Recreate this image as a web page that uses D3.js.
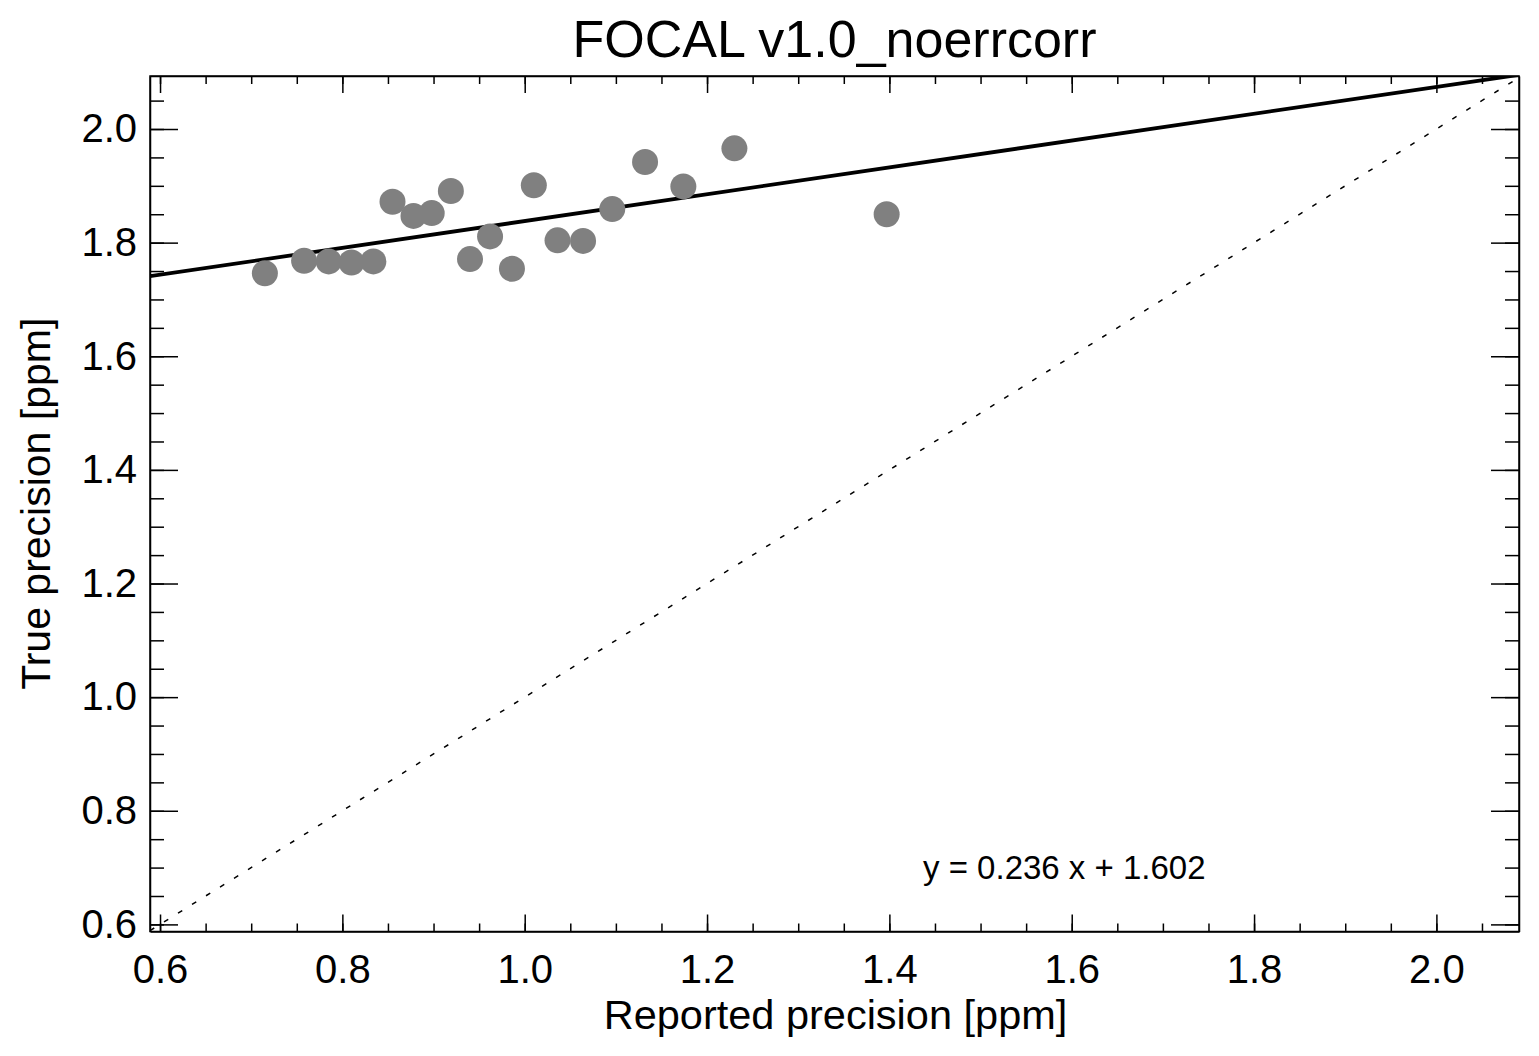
<!DOCTYPE html>
<html lang="en">
<head>
    <meta charset="UTF-8">
    <title>FOCAL v1.0_noerrcorr</title>
    <script src="https://d3js.org/d3.v7.min.js"></script>
    <style>
        body {
            margin: 0;
            background: #fff;
        }
        text {
            font-family: "Liberation Sans", Arial, Helvetica, sans-serif;
            fill: #000;
        }
        .axis path, .axis line {
            stroke: #000;
            stroke-width: 1.5;
        }
        .axis text {
            font-size: 40px;
        }
        .frame {
            fill: none;
            stroke: #000;
            stroke-width: 1.5;
        }
        .fit {
            fill: none;
            stroke: #000;
            stroke-width: 3.8;
        }
        .identity {
            fill: none;
            stroke: #000;
            stroke-width: 1.5;
            stroke-dasharray: 5, 11.5;
        }
        .dot {
            fill: #808080;
        }
    </style>
</head>
<body>
<div id="chart"></div>
<script>
    const width = 1539;
    const height = 1056;

    // values
    const reportedPrecision = [0.715, 0.758, 0.785, 0.810, 0.834, 0.855, 0.878, 0.898, 0.919, 0.940,
                               0.962, 0.986, 1.010, 1.036, 1.064, 1.096, 1.132, 1.174, 1.230, 1.397];
    const truePrecision = [1.746, 1.768, 1.767, 1.765, 1.767, 1.872, 1.847, 1.852, 1.891, 1.771,
                           1.811, 1.754, 1.901, 1.804, 1.803, 1.859, 1.942, 1.899, 1.966, 1.850];
    const fitSlope = 0.236;
    const fitIntercept = 1.602;
    const xTicks = [0.6, 0.8, 1.0, 1.2, 1.4, 1.6, 1.8, 2.0];
    const yTicks = [0.6, 0.8, 1.0, 1.2, 1.4, 1.6, 1.8, 2.0];
    const xDomain = [0.589, 2.0906];
    const yDomain = [0.5875, 2.0933];

    const box = {left: 150, right: 1519, top: 76, bottom: 931.5};

    const x = d3.scaleLinear().domain(xDomain).range([box.left, box.right]);
    const y = d3.scaleLinear().domain(yDomain).range([box.bottom, box.top]);

    const minorTicks = d3.range(0.6, 2.0501, 0.05).map(d => +d.toFixed(2));

    const svg = d3.select("#chart").append("svg")
        .attr("width", width)
        .attr("height", height);

    svg.append("defs").append("clipPath").attr("id", "plotClip")
        .append("rect")
        .attr("x", box.left).attr("y", box.top)
        .attr("width", box.right - box.left)
        .attr("height", box.bottom - box.top);

    drawAxes(svg);
    drawLines(svg.append("g").attr("clip-path", "url(#plotClip)"));
    drawDots(svg.append("g"));
    drawText(svg);

    svg.append("rect")
        .attr("class", "frame")
        .attr("x", box.left).attr("y", box.top)
        .attr("width", box.right - box.left)
        .attr("height", box.bottom - box.top);

    function drawAxes(svg) {
        const fmt = d3.format(".1f");

        // labelled axes, ticks pointing in
        svg.append("g").attr("class", "axis")
            .attr("transform", `translate(0,${box.bottom})`)
            .call(d3.axisBottom(x).tickValues(xTicks).tickFormat(fmt)
                .tickSizeInner(-17).tickSizeOuter(0).tickPadding(23));
        svg.append("g").attr("class", "axis")
            .attr("transform", `translate(${box.left},0)`)
            .call(d3.axisLeft(y).tickValues(yTicks).tickFormat(fmt)
                .tickSizeInner(-28).tickSizeOuter(0).tickPadding(13));

        // mirrored axes without labels
        svg.append("g").attr("class", "axis")
            .attr("transform", `translate(0,${box.top})`)
            .call(d3.axisTop(x).tickValues(xTicks).tickFormat("")
                .tickSizeInner(-17).tickSizeOuter(0));
        svg.append("g").attr("class", "axis")
            .attr("transform", `translate(${box.right},0)`)
            .call(d3.axisRight(y).tickValues(yTicks).tickFormat("")
                .tickSizeInner(-28).tickSizeOuter(0));

        // minor ticks
        const minor = [
            [d3.axisBottom(x), `translate(0,${box.bottom})`, -8],
            [d3.axisTop(x), `translate(0,${box.top})`, -8],
            [d3.axisLeft(y), `translate(${box.left},0)`, -14],
            [d3.axisRight(y), `translate(${box.right},0)`, -14]
        ];
        minor.forEach(function(m) {
            svg.append("g").attr("class", "axis")
                .attr("transform", m[1])
                .call(m[0].tickValues(minorTicks).tickFormat("").tickSizeInner(m[2]).tickSizeOuter(0))
                .select(".domain").remove();
        });
    }

    function drawLines(g) {
        const line = d3.line().x(d => x(d[0])).y(d => y(d[1]));

        // one-to-one line
        g.append("path")
            .attr("class", "identity")
            .attr("d", line([[xDomain[0], xDomain[0]], [xDomain[1], xDomain[1]]]));

        // linear fit
        g.append("path")
            .attr("class", "fit")
            .attr("d", line(xDomain.map(v => [v, fitSlope * v + fitIntercept])));
    }

    function drawDots(g) {
        g.selectAll("circle")
            .data(d3.zip(reportedPrecision, truePrecision))
            .enter()
            .append("circle")
            .attr("class", "dot")
            .attr("cx", d => x(d[0]))
            .attr("cy", d => y(d[1]))
            .attr("r", 13);
    }

    function drawText(svg) {
        svg.append("text")
            .attr("x", (box.left + box.right) / 2)
            .attr("y", 57)
            .attr("text-anchor", "middle")
            .style("font-size", "52px")
            .text("FOCAL v1.0_noerrcorr");

        svg.append("text")
            .attr("x", (box.left + box.right) / 2 + 1)
            .attr("y", 1029)
            .attr("text-anchor", "middle")
            .style("font-size", "41.5px")
            .text("Reported precision [ppm]");

        svg.append("text")
            .attr("transform", `translate(50,${(box.top + box.bottom) / 2}) rotate(-90)`)
            .attr("text-anchor", "middle")
            .style("font-size", "41px")
            .text("True precision [ppm]");

        svg.append("text")
            .attr("x", 923)
            .attr("y", 879)
            .style("font-size", "33px")
            .text(`y = ${fitSlope.toFixed(3)} x + ${fitIntercept.toFixed(3)}`);
    }
</script>
</body>
</html>
